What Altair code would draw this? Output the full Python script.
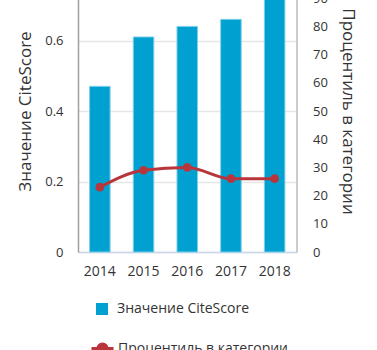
import altair as alt
import pandas as pd

years = ["2014", "2015", "2016", "2017", "2018"]
citescore = [0.47, 0.61, 0.64, 0.66, 0.76]
percentile = [23, 29, 30, 26, 26]
bar_name = "Значение CiteScore"
line_name = "Процентиль в категории"

df = pd.DataFrame({"year": years, "citescore": citescore, "percentile": percentile,
                   "s1": [bar_name] * len(years), "s2": [line_name] * len(years)})

FONT = "Open Sans"
TXT = "#333333"
BLUE = "#00a0d0"
RED = "#b8353b"

x = alt.X("year:N", title=None, sort=years,
          scale=alt.Scale(paddingInner=0.53, paddingOuter=0.265),
          axis=alt.Axis(labelAngle=0, labelFont=FONT, labelFontSize=14, labelColor=TXT,
                        labelPadding=12, ticks=False, domainColor="#ccd6eb", domainWidth=1.5))

bars = alt.Chart(df).mark_bar(stroke="#7fd0ea", strokeWidth=1).encode(
    x=x,
    y=alt.Y("citescore:Q", title=bar_name,
            scale=alt.Scale(domain=[0, 0.8], nice=False),
            axis=alt.Axis(values=[0, 0.2, 0.4, 0.6, 0.8], format="~g", labelFont=FONT,
                          labelFontSize=13, labelColor=TXT, labelPadding=15, ticks=False,
                          tickSize=0, domainColor="#a0a0a0", domainWidth=1.5,
                          gridColor="#e6e6e6", gridWidth=1.5,
                          titleFont=FONT, titleFontSize=17, titleFontWeight="normal",
                          titleColor=TXT, titlePadding=10)),
    color=alt.Color("s1:N", scale=alt.Scale(domain=[bar_name], range=[BLUE]),
                    legend=alt.Legend(title=None, orient="none", legendX=17, legendY=332,
                                      symbolType="square", symbolSize=144,
                                      symbolStrokeWidth=0, labelOffset=8, labelLimit=400,
                                      labelFont=FONT, labelFontSize=14, labelColor=TXT,
                                      padding=0)),
)

line = alt.Chart(df).mark_line(interpolate="monotone", strokeWidth=3,
                               point=alt.OverlayMarkDef(size=75, filled=True, color=RED)).encode(
    x=x,
    y=alt.Y("percentile:Q", title=line_name,
            scale=alt.Scale(domain=[0, 100], nice=False),
            axis=alt.Axis(orient="right", values=list(range(0, 101, 10)), labelFont=FONT,
                          labelFontSize=13, labelColor=TXT, labelPadding=16, ticks=False,
                          tickSize=0, grid=False, domainColor="#bbbbbb", domainWidth=1.5,
                          titleFont=FONT, titleFontSize=17, titleFontWeight="normal",
                          titleColor=TXT, titlePadding=4)),
    color=alt.Color("s2:N", scale=alt.Scale(domain=[line_name], range=[RED]),
                    legend=alt.Legend(title=None, orient="none", legendX=12, legendY=366,
                                      symbolType="M-1,0L1,0M0.42,0A0.42,0.42 0 1,1 -0.42,0A0.42,0.42 0 1,1 0.42,0",
                                      symbolSize=484, symbolStrokeWidth=3,
                                      symbolFillColor=RED, symbolStrokeColor=RED,
                                      symbolOpacity=1, labelLimit=400,
                                      labelOffset=3, labelFont=FONT, labelFontSize=14,
                                      labelColor=TXT, padding=0)),
)

chart = alt.layer(bars, line).resolve_scale(
    y="independent", color="independent"
).resolve_legend(color="independent").properties(
    width=218.5, height=282,
    autosize=alt.AutoSizeParams(type="none"),
    padding={"left": 78, "top": -30, "right": 80.5, "bottom": 98},
).configure_view(stroke=None)

chart.save("out.html", embed_options={"renderer": "svg", "actions": False})
